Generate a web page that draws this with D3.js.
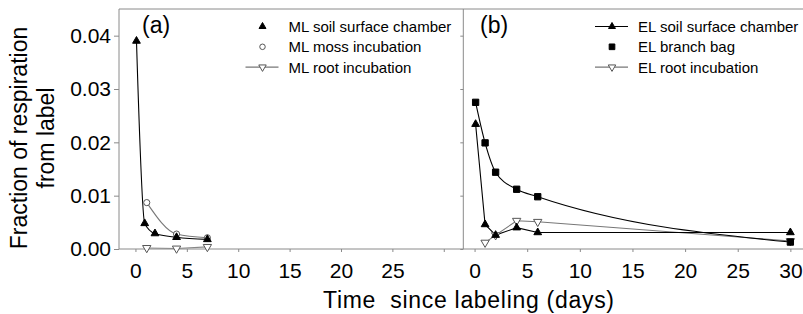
<!DOCTYPE html>
<html>
<head>
<meta charset="utf-8">
<script src="https://cdn.jsdelivr.net/npm/d3@7"></script>
<style>
  body { margin: 0; background: white; }
  text { font-family: "Liberation Sans", Arial, sans-serif; fill: black; }
</style>
</head>
<body>
<div id="d3-container"></div>
<script>
// values
const fracTicks = [0, 0.01, 0.02, 0.03, 0.04];
const dayTicks = [0, 5, 10, 15, 20, 25, 30];
const dayLabelsA = ["0", "5", "10", "15", "20", "25", ""];
const dayLabelsB = ["0", "5", "10", "15", "20", "25", "30"];

const mlSoilDays = [0.1, 0.9, 1.9, 4, 7];
const mlSoil = [0.039, 0.0048, 0.0029, 0.0022, 0.0018];
const mlMossDays = [1.1, 4, 7];
const mlMoss = [0.0087, 0.0028, 0.0021];
const mlRootDays = [1.1, 4, 7];
const mlRoot = [0.0002, 0.0001, 0.0004];

const elSoilDays = [0.1, 1, 2, 4, 6, 30];
const elSoil = [0.0234, 0.0046, 0.0026, 0.0040, 0.0031, 0.0031];
const elBranchDays = [0.1, 1, 2, 4, 6, 30];
const elBranch = [0.0275, 0.0199, 0.0144, 0.0112, 0.0098, 0.0013];
const elRootDays = [1, 2, 4, 6, 30];
const elRoot = [0.0012, 0.0026, 0.0053, 0.0051, 0.0015];

const legendA = ["ML soil surface chamber", "ML moss incubation", "ML root incubation"];
const legendB = ["EL soil surface chamber", "EL branch bag", "EL root incubation"];

let width = 803, height = 314;
let plotTop = 9, plotBottom = 249, plotLeft = 119, plotMid = 463.3, plotRight = 803;
const frameColor = "#8a8a8a";

let svg = d3.select('#d3-container')
  .append('svg')
  .attr('width', width)
  .attr('height', height)
  .style('display', 'block');

const y = d3.scaleLinear().domain([0, 0.045]).range([plotBottom, plotTop]);
const xA = d3.scaleLinear().domain([-1.6, 31.9]).range([plotLeft, plotMid]);
const xB = d3.scaleLinear().domain([-1.07, 31.2]).range([plotMid, plotRight]);

// frame
svg.append("line").attr("x1", plotLeft).attr("x2", plotRight).attr("y1", plotTop).attr("y2", plotTop)
  .attr("stroke", frameColor);
svg.append("line").attr("x1", plotMid).attr("x2", plotMid).attr("y1", plotTop).attr("y2", plotBottom)
  .attr("stroke", frameColor);

// left axis
let yAxis = svg.append("g")
  .attr("transform", `translate(${plotLeft},0)`)
  .call(d3.axisLeft(y).tickValues(fracTicks).tickFormat(d3.format(".2f"))
    .tickSize(5).tickSizeOuter(0).tickPadding(3));
yAxis.select(".domain").attr("stroke", frameColor).attr("d", `M0,${plotTop}V${plotBottom}`);
yAxis.selectAll(".tick line").attr("stroke", frameColor);
yAxis.selectAll("text").style("font-size", "21px");

// inward ticks on the divider
svg.append("g")
  .attr("transform", `translate(${plotMid},0)`)
  .call(d3.axisLeft(y).tickValues(fracTicks).tickSize(3).tickSizeOuter(0).tickFormat(""))
  .call(g => g.select(".domain").remove())
  .selectAll("line").attr("stroke", frameColor);

// bottom axes
function bottomAxis(x, labels) {
  let g = svg.append("g")
    .attr("transform", `translate(0,${plotBottom})`)
    .call(d3.axisBottom(x).tickValues(dayTicks).tickFormat((d, i) => labels[i])
      .tickSize(3).tickSizeOuter(0).tickPadding(11));
  g.select(".domain").remove();
  g.selectAll(".tick line").attr("stroke", frameColor);
  g.selectAll("text").style("font-size", "21px");
}
bottomAxis(xA, dayLabelsA);
bottomAxis(xB, dayLabelsB);
svg.append("line").attr("x1", plotLeft).attr("x2", plotRight).attr("y1", plotBottom).attr("y2", plotBottom)
  .attr("stroke", frameColor);

// helpers
function pts(days, vals) { return days.map((d, i) => [d, vals[i]]); }

function drawLine(x, data, color, curve) {
  svg.append("path")
    .datum(data)
    .attr("fill", "none")
    .attr("stroke", color)
    .attr("stroke-width", 1.1)
    .attr("d", d3.line().x(d => x(d[0])).y(d => y(d[1])).curve(curve));
}

const markers = {
  tri: { type: d3.symbolTriangle, size: 26, fill: "black", stroke: "black", rot: 0 },
  down: { type: d3.symbolTriangle, size: 30, fill: "white", stroke: "#555", rot: 180 },
  circle: { type: d3.symbolCircle, size: 30, fill: "white", stroke: "#555", rot: 0 },
  square: { type: d3.symbolSquare, size: 40, fill: "black", stroke: "black", rot: 0 }
};

function drawMarkers(x, data, m) {
  let mk = markers[m];
  svg.append("g")
    .selectAll("path")
    .data(data)
    .join("path")
    .attr("transform", d => `translate(${x(d[0])},${y(d[1])}) rotate(${mk.rot})`)
    .attr("d", d3.symbol().type(mk.type).size(mk.size))
    .attr("fill", mk.fill)
    .attr("stroke", mk.stroke)
    .attr("stroke-width", 1);
}

// panel (a)
drawLine(xA, pts(mlRootDays, mlRoot), "#888", d3.curveLinear);
drawLine(xA, pts(mlMossDays, mlMoss), "#777", d3.curveMonotoneX);
drawLine(xA, pts(mlSoilDays, mlSoil), "black", d3.curveMonotoneX);
drawMarkers(xA, pts(mlRootDays, mlRoot), "down");
drawMarkers(xA, pts(mlMossDays, mlMoss), "circle");
drawMarkers(xA, pts(mlSoilDays, mlSoil), "tri");

// panel (b)
drawLine(xB, pts(elRootDays, elRoot), "#777", d3.curveLinear);
drawLine(xB, pts(elBranchDays, elBranch), "black", d3.curveMonotoneX);
drawLine(xB, pts(elSoilDays, elSoil), "black", d3.curveLinear);
drawMarkers(xB, pts(elRootDays, elRoot), "down");
drawMarkers(xB, pts(elBranchDays, elBranch), "square");
drawMarkers(xB, pts(elSoilDays, elSoil), "tri");

// panel labels
svg.append("text").attr("x", 142).attr("y", 33).style("font-size", "23px").text("(a)");
svg.append("text").attr("x", 480).attr("y", 33).style("font-size", "23px").text("(b)");

// legends
function legend(x0, names, kinds, lines, lineColors) {
  names.forEach((name, i) => {
    let yy = 32 + i * 20.3;
    if (lines[i]) {
      svg.append("line").attr("x1", x0 - 17).attr("x2", x0 + 16)
        .attr("y1", yy - 5.5).attr("y2", yy - 5.5)
        .attr("stroke", lineColors[i]).attr("stroke-width", 1.1);
    }
    let mk = markers[kinds[i]];
    svg.append("path")
      .attr("transform", `translate(${x0},${yy - 5.5}) rotate(${mk.rot})`)
      .attr("d", d3.symbol().type(mk.type).size(mk.size * 0.8))
      .attr("fill", mk.fill).attr("stroke", mk.stroke);
    svg.append("text").attr("x", x0 + 26).attr("y", yy)
      .style("font-size", "15px").text(name);
  });
}
legend(262.5, legendA, ["tri", "circle", "down"], [false, false, true], ["black", "#777", "#777"]);
legend(612, legendB, ["tri", "square", "down"], [true, false, true], ["black", "black", "#777"]);

// axis titles
svg.append("text")
  .attr("x", 323)
  .attr("y", 308)
  .attr("textLength", 291)
  .style("font-size", "23px")
  .style("white-space", "pre")
  .text("Time  since labeling (days)");

let yl = svg.append("text")
  .attr("text-anchor", "middle")
  .attr("transform", "translate(27,138) rotate(-90)")
  .style("font-size", "23px");
yl.append("tspan").attr("x", 0).attr("y", 0).text("Fraction of respiration");
yl.append("tspan").attr("x", 0).attr("y", 26.5).text("from label");
</script>
</body>
</html>
